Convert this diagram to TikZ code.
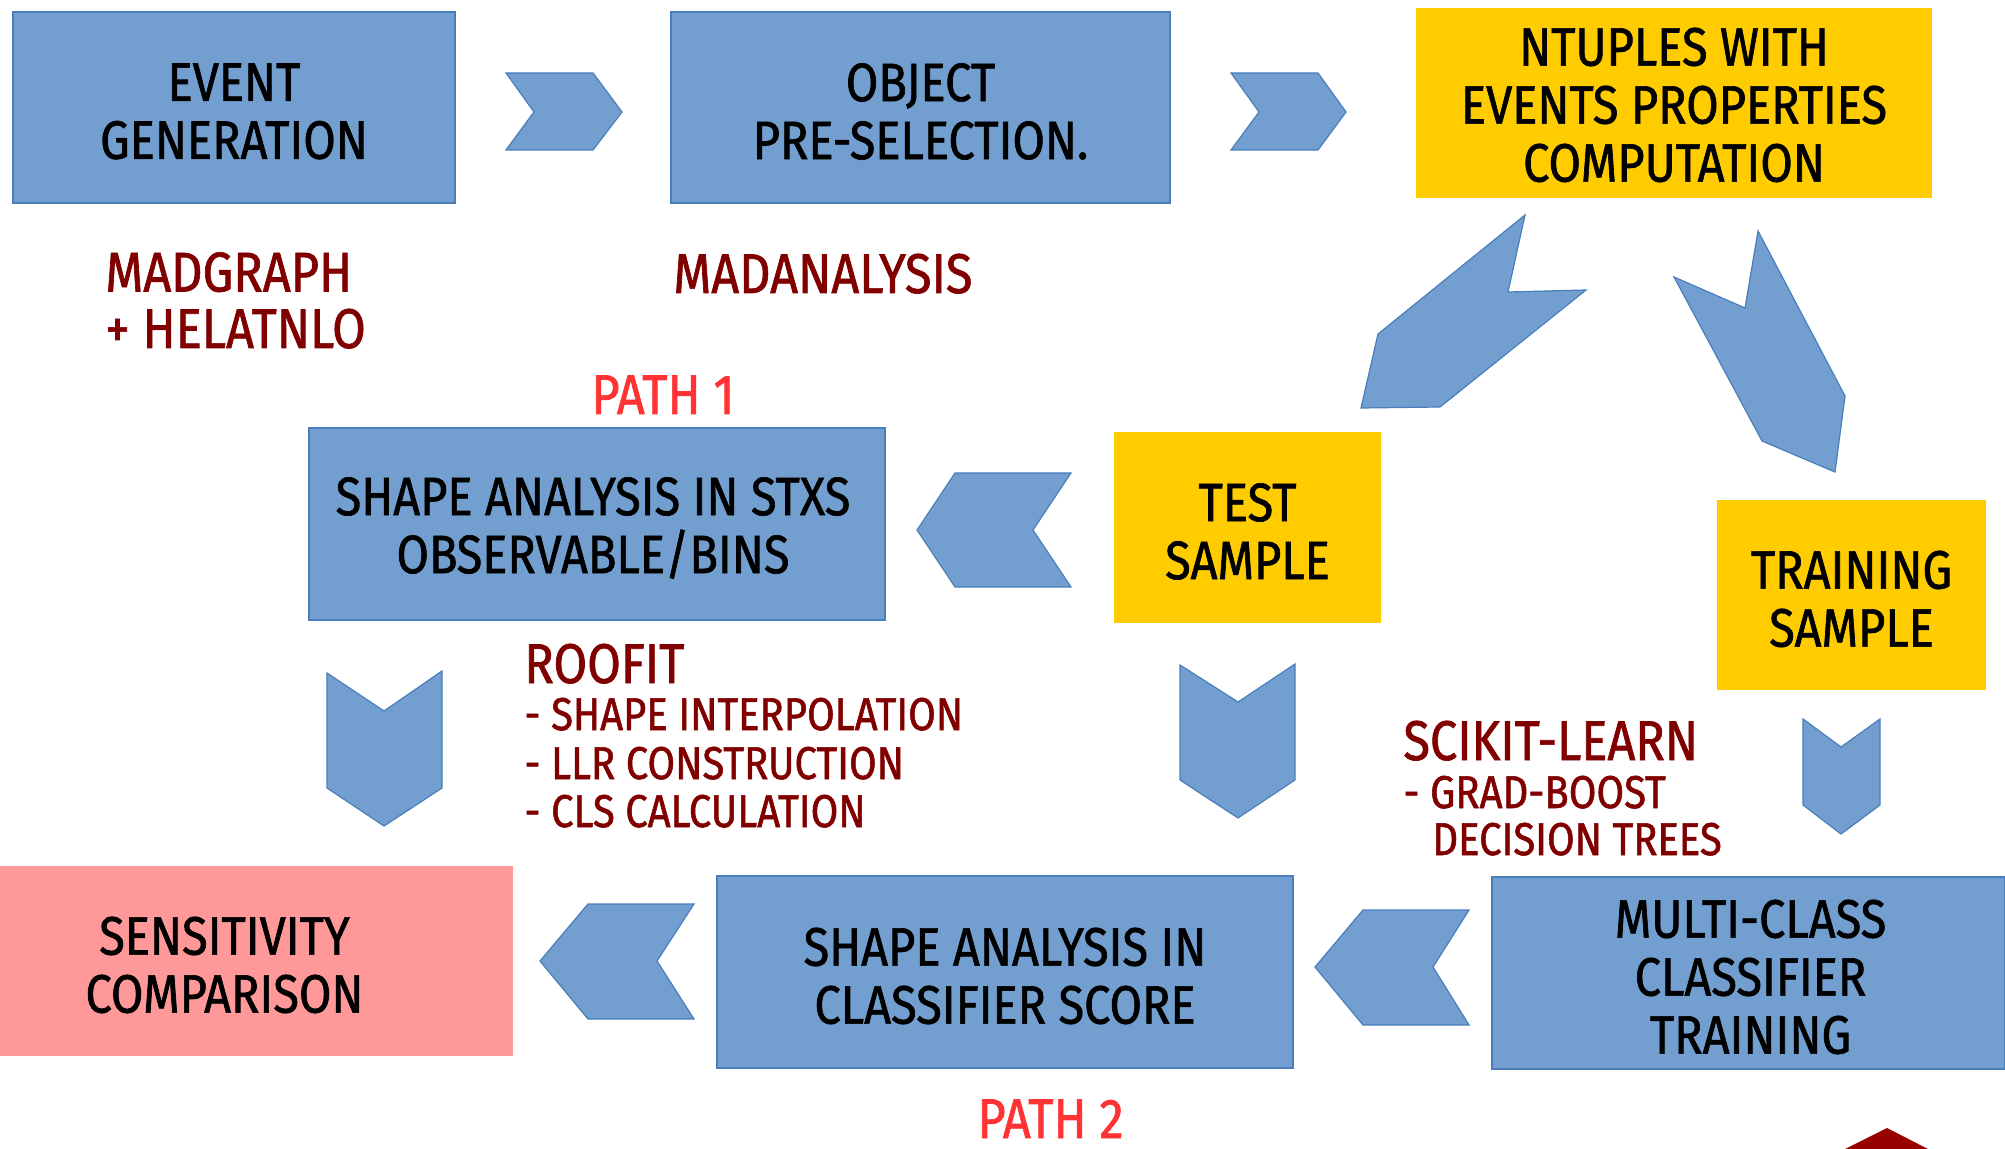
\documentclass[tikz,border=0pt]{standalone}
\usepackage{fontspec}
\setmainfont[FakeStretch=0.87,FakeBold=1.2]{Fira Sans}
\definecolor{boxblue}{HTML}{729FCF}
\definecolor{edgeblue}{HTML}{4A7EBB}
\definecolor{ntyellow}{HTML}{FFCC00}
\definecolor{sensred}{HTML}{FF9999}
\definecolor{toolred}{HTML}{800000}
\definecolor{pathred}{HTML}{FF3333}
\definecolor{trired}{HTML}{990000}
\tikzset{
  stagebox/.style={draw=edgeblue, line width=0.6pt, fill=boxblue, inner sep=0pt},
  yellowbox/.style={stagebox, draw=none, fill=ntyellow},
  pinkbox/.style={stagebox, draw=none, fill=sensred},
  boxtxt/.style={align=center, inner sep=0pt, font=\fontsize{27}{29}\selectfont},
  chev/.style={fill=boxblue, draw=edgeblue, line width=0.6pt, line join=miter},
  tooltxt/.style={text=toolred, anchor=base west, inner sep=0pt, align=left,
    font=\fontsize{28}{29}\selectfont},
  listtxt/.style={text=toolred, anchor=base west, inner sep=0pt,
    font=\fontsize{23}{24}\selectfont},
  pathtxt/.style={text=pathred, anchor=base west, inner sep=0pt,
    font=\fontsize{28}{29}\selectfont},
}
\begin{document}
\begin{tikzpicture}[x=0.5pt,y=-0.5pt]
\useasboundingbox (0,0) rectangle (2005,1149);
% boxes
\node[stagebox, minimum width=221pt, minimum height=95.5pt] (gen) at (234,107.5) {};
\node[stagebox, minimum width=249.5pt, minimum height=95.5pt] (presel) at (920.5,107.5) {};
\node[yellowbox, minimum width=258pt, minimum height=95pt] (ntuples) at (1674,103) {};
\node[stagebox, minimum width=288pt, minimum height=96pt] (stxs) at (597,524) {};
\node[yellowbox, minimum width=133.5pt, minimum height=95.5pt] (test) at (1247.5,527.5) {};
\node[yellowbox, minimum width=134.5pt, minimum height=95pt] (train) at (1851.5,595) {};
\node[pinkbox, minimum width=256.5pt, minimum height=95pt] (sens) at (256.5,961) {};
\node[stagebox, minimum width=288pt, minimum height=96pt] (score) at (1005,972) {};
\node[stagebox, minimum width=256.5pt, minimum height=96pt] (multi) at (1748.5,973) {};
% box texts
\node[boxtxt] (gent) at ([yshift=-2pt]gen.center) {EVENT\\GENERATION};
\node[boxtxt] (preselt) at ([yshift=-2pt]presel.center) {OBJECT\\PRE-SELECTION.};
\node[boxtxt] (ntuplest) at ([yshift=-1pt]ntuples.center) {NTUPLES WITH\\EVENTS PROPERTIES\\COMPUTATION};
\node[boxtxt] (stxst) at ([xshift=-2pt,yshift=-2pt]stxs.center) {SHAPE ANALYSIS IN STXS\\OBSERVABLE/BINS};
\node[boxtxt] (testt) at ([yshift=-2pt]test.center) {TEST\\SAMPLE};
\node[boxtxt] (traint) at ([yshift=-2pt]train.center) {TRAINING\\SAMPLE};
\node[boxtxt] (senst) at ([xshift=-16pt,yshift=-2pt]sens.center) {SENSITIVITY\\COMPARISON};
\node[boxtxt] (scoret) at ([yshift=-2pt]score.center) {SHAPE ANALYSIS IN\\CLASSIFIER SCORE};
\node[boxtxt] (multit) at ([xshift=1pt,yshift=-2pt]multi.center) {MULTI-CLASS\\CLASSIFIER\\TRAINING};
% chevrons
\draw[chev] (506,73) -- (593,73) -- (622,112) -- (593,150) -- (506,150) -- (534,112) -- cycle;
\draw[chev] (1231,73) -- (1318,73) -- (1346,112) -- (1318,150) -- (1231,150) -- (1259,112) -- cycle;
\draw[chev] (1525,215) -- (1508,292) -- (1586,290) -- (1440,407) -- (1361,408) -- (1378,334) -- cycle;
\draw[chev] (1758,231) -- (1845,396) -- (1835,472) -- (1762,441) -- (1674,277) -- (1745,308) -- cycle;
\draw[chev] (917,530) -- (955,473) -- (1071,473) -- (1033,530) -- (1071,587) -- (955,587) -- cycle;
\draw[chev] (327,673) -- (384,711) -- (442,671) -- (442,788) -- (384,826) -- (327,788) -- cycle;
\draw[chev] (1180,665) -- (1238,702) -- (1295,664) -- (1295,780) -- (1238,818) -- (1180,780) -- cycle;
\draw[chev] (1803,719) -- (1841,747) -- (1880,719) -- (1880,805) -- (1841,834) -- (1803,805) -- cycle;
\draw[chev] (540,961) -- (588,904) -- (694,904) -- (657,961) -- (694,1019) -- (588,1019) -- cycle;
\draw[chev] (1315,967) -- (1363,910) -- (1469,910) -- (1433,967) -- (1469,1025) -- (1363,1025) -- cycle;
% red triangle
\fill[trired] (1845,1149) -- (1887,1128) -- (1928,1149) -- cycle;
% annotations
\node[tooltxt] (mg) at (105,291.5) {MADGRAPH};
\node[tooltxt] (hel) at (105,348) {+ HELATNLO};
\node[tooltxt] (ma) at (673,293) {MADANALYSIS};
\node[pathtxt] (p1) at (591,414) {PATH 1};
\node[tooltxt] (rf) at (524,683) {ROOFIT};
\node[listtxt] (rf1) at (524,730) {- SHAPE INTERPOLATION};
\node[listtxt] (rf2) at (524,779) {- LLR CONSTRUCTION};
\node[listtxt] (rf3) at (524,827) {- CLS CALCULATION};
\node[tooltxt] (sk) at (1403,760) {SCIKIT-LEARN};
\node[listtxt] (sk1) at (1403,808) {- GRAD-BOOST};
\node[listtxt] (sk2) at (1432,855) {DECISION TREES};
\node[pathtxt] (p2) at (977,1138) {PATH 2};
\end{tikzpicture}
\end{document}
